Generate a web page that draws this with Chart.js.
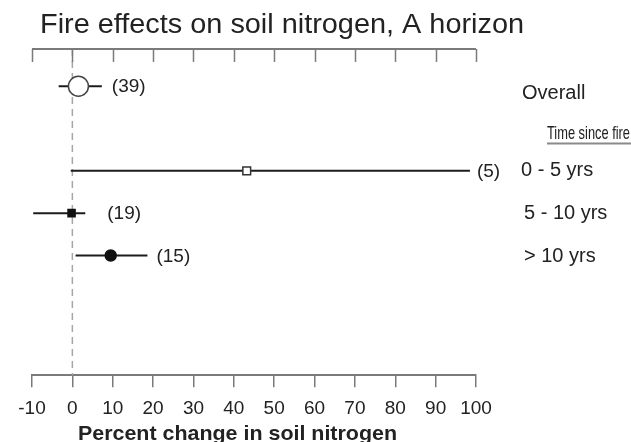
<!DOCTYPE html>
<html>
<head>
<meta charset="utf-8">
<script src="https://cdn.jsdelivr.net/npm/chart.js@4.4.0/dist/chart.umd.min.js"></script>
<style>
  html, body { margin: 0; padding: 0; background: #fff; }
  #wrap { width: 631px; height: 442px; position: relative; }
</style>
</head>
<body>
<div id="wrap"><canvas id="forest"></canvas></div>
<script>
const categories = ["Overall", "0 - 5 yrs", "5 - 10 yrs", "> 10 yrs"];
const rowPos = [0, 2, 3, 4];
const meanChange = [1.5, 43.2, -0.2, 9.5];
const lowerCI = [-3.4, -0.4, -9.7, 0.8];
const upperCI = [7.3, 98.5, 3.2, 18.6];
const sampleSizes = [39, 5, 19, 15];
const xTicks = [-10, 0, 10, 20, 30, 40, 50, 60, 70, 80, 90, 100];

const FONT = "'Liberation Sans', Arial, Helvetica, sans-serif";
const INK = "#222";
const AXIS = "#7a7a7a";

// Draw text squeezed or stretched horizontally to a target width.
function fitText(ctx, text, x, y, font, width) {
  ctx.save();
  ctx.font = font;
  const natural = ctx.measureText(text).width;
  ctx.translate(x, y);
  ctx.scale(width / natural, 1);
  ctx.fillText(text, 0, 0);
  ctx.restore();
}

const forestDecor = {
  id: "forestDecor",
  beforeDatasetsDraw(chart) {
    const { ctx, chartArea } = chart;
    const x0 = chart.scales.x.getPixelForValue(0);

    // Reference line at zero change
    ctx.save();
    ctx.strokeStyle = "#a5a5a5";
    ctx.lineWidth = 1.5;
    ctx.setLineDash([7, 5]);
    ctx.beginPath();
    ctx.moveTo(x0, chartArea.top);
    ctx.lineTo(x0, chartArea.bottom);
    ctx.stroke();
    ctx.restore();
  },
  afterDraw(chart, args, opts) {
    const { ctx, chartArea } = chart;
    const xs = chart.scales.x;
    const ys = chart.scales.y;

    ctx.save();

    // Top axis with ticks pointing into the plot
    ctx.strokeStyle = AXIS;
    ctx.lineWidth = 2;
    ctx.beginPath();
    ctx.moveTo(chartArea.left, chartArea.top);
    ctx.lineTo(chartArea.right, chartArea.top);
    ctx.stroke();
    ctx.lineWidth = 1.5;
    xTicks.forEach((v) => {
      const px = Math.round(xs.getPixelForValue(v)) + 0.5;
      ctx.beginPath();
      ctx.moveTo(px, chartArea.top);
      ctx.lineTo(px, chartArea.top + 13);
      ctx.stroke();
    });

    ctx.fillStyle = INK;
    ctx.textBaseline = "alphabetic";
    ctx.textAlign = "left";
    fitText(ctx, "Fire effects on soil nitrogen, A horizon", 40, 33, `27px ${FONT}`, 484);

    // Sample sizes next to each interval
    ctx.font = `19px ${FONT}`;
    ctx.textBaseline = "middle";
    categories.forEach((c, i) => {
      const px = xs.getPixelForValue(upperCI[i]) + opts.countGap[i];
      const py = ys.getPixelForValue(rowPos[i]);
      ctx.fillText(`(${sampleSizes[i]})`, px, py + 1);
    });

    // Row labels on the right
    ctx.font = `20px ${FONT}`;
    categories.forEach((c, i) => {
      const py = ys.getPixelForValue(rowPos[i]) + opts.labelDy[i];
      ctx.fillText(c, chartArea.right + opts.labelDx[i], py);
    });

    // Group header
    const hy = ys.getPixelForValue(1) + 5;
    fitText(ctx, "Time since fire", 547, hy, `19px ${FONT}`, 83);
    ctx.strokeStyle = "#8a8a8a";
    ctx.lineWidth = 2;
    ctx.beginPath();
    ctx.moveTo(547, hy + 10);
    ctx.lineTo(631, hy + 10);
    ctx.stroke();

    // X axis title
    ctx.textBaseline = "alphabetic";
    fitText(ctx, "Percent change in soil nitrogen", 78, 440, `bold 21px ${FONT}`, 319);

    ctx.restore();
  }
};

const markerData = categories.map((c, i) => ({ x: meanChange[i], y: rowPos[i] }));

const ciDatasets = categories.map((c, i) => ({
  label: `${c} CI`,
  data: [
    { x: lowerCI[i], y: rowPos[i] },
    { x: upperCI[i], y: rowPos[i] }
  ],
  showLine: true,
  borderColor: "#1c1c1c",
  borderWidth: 2,
  pointRadius: 0,
  order: 2
}));

new Chart(document.getElementById("forest"), {
  type: "scatter",
  data: {
    datasets: [
      {
        label: "Mean",
        data: markerData,
        pointStyle: ["circle", "rect", "rect", "circle"],
        pointRadius: [10, 5.5, 5, 5.5],
        pointBackgroundColor: ["#ffffff", "#ffffff", "#111111", "#111111"],
        pointBorderColor: ["#444444", "#333333", "#111111", "#111111"],
        pointBorderWidth: 1.5,
        order: 0
      },
      ...ciDatasets
    ]
  },
  options: {
    responsive: true,
    maintainAspectRatio: false,
    animation: false,
    devicePixelRatio: 1,
    clip: false,
    layout: {
      padding: { top: 49, left: 32, right: 155, bottom: 12 }
    },
    plugins: {
      legend: { display: false },
      tooltip: { enabled: false },
      forestDecor: {
        countGap: [10, 7, 22, 9],
        labelDx: [46, 45, 48, 48],
        labelDy: [7, 0, 0, 1]
      }
    },
    scales: {
      x: {
        type: "linear",
        min: -10,
        max: 100,
        afterBuildTicks: (scale) => {
          scale.ticks = xTicks.map((v) => ({ value: v }));
        },
        ticks: {
          autoSkip: false,
          maxRotation: 0,
          color: INK,
          padding: 10,
          font: { family: FONT, size: 19 }
        },
        grid: {
          drawOnChartArea: false,
          tickLength: 12,
          color: AXIS,
          lineWidth: 1.5
        },
        border: { display: true, color: AXIS, width: 2 }
      },
      y: {
        type: "linear",
        display: false,
        reverse: true,
        min: -0.88,
        max: 6.83
      }
    }
  },
  plugins: [forestDecor]
});
</script>
</body>
</html>
